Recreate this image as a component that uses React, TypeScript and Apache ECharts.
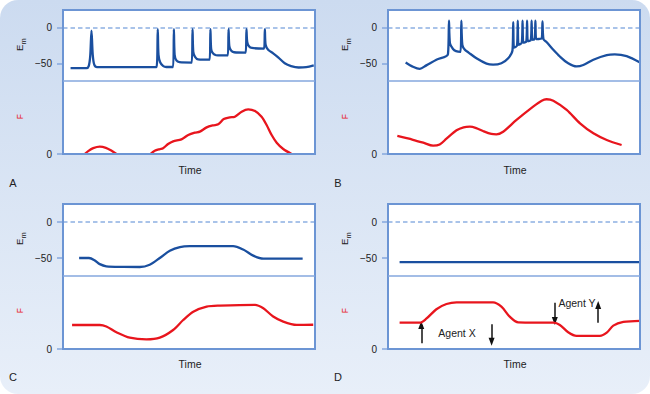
import React, { useEffect, useRef } from 'react';
import * as echarts from 'echarts';

// ---- data ----
const EM_TICKS = [0, -50];
const F_TICKS = [0];
const EM_RANGE = [-75, 25];
const F_RANGE = [0, 100];
const PANEL_LETTERS = ['A', 'B', 'C', 'D'];
const X_NAME = 'Time';
const AGENT_LABELS = ['Agent X', 'Agent Y'];

// Panel A: membrane potential (mV) vs time (0-100)
const aEm = [
  [3, -57], [9.3, -57], [10.2, -54], [10.8, -40], [11.3, -4], [11.8, -38], [12.4, -52], [13.5, -55.5], [20, -55.5], [37.1, -55.5],
  [37.6, -2], [37.9, -38], [38.6, -49], [39.8, -54], [41, -55.3], [43.7, -55.3],
  [44.0, -2], [44.3, -38], [45, -46], [46.2, -48.5], [51.1, -49],
  [51.4, -2], [51.7, -34], [52.4, -41], [53.6, -44.5], [58.2, -45],
  [58.5, -2], [58.8, -30], [59.5, -36], [60.7, -38.5], [65.4, -39],
  [65.7, -2], [66.0, -26], [66.7, -32], [67.9, -34.5], [72.5, -35],
  [72.8, -2], [73.1, -20], [73.8, -26], [75, -28.5], [79.8, -29.5],
  [80.1, -2], [80.4, -24], [81.4, -31], [83.4, -36], [85.5, -42], [88, -50], [90.5, -54], [93.5, -56], [96.5, -55.5], [99.5, -53],
];
const aF = [
  [8.6, 0], [10, 4], [12, 8], [14.6, 10], [17, 8.5], [19, 5], [21.2, 0], [null, null],
  [34.7, 0], [36.4, 4.6], [38.4, 6.8], [39.7, 7.8], [41.7, 13.7], [43.7, 17.4], [47, 20.1], [49.7, 26], [52.3, 29.2],
  [54.3, 30.6], [57, 36.5], [59.6, 39.3], [61.6, 40.6], [63.8, 47.9], [66.2, 50.2], [68.2, 51.1], [70.9, 58],
  [73.5, 61.2], [76.2, 58.9], [78.8, 51.1], [80.8, 39.7], [82.8, 26], [84.8, 15.5], [87.4, 6.8], [90.7, 0],
];

// Panel B
const bEm = [
  [7, -49], [9.9, -55], [12.6, -58], [15.2, -53], [19.2, -45], [23.8, -37],
  [24.2, 10], [24.6, -22], [25.8, -30], [27, -33], [28.8, -34],
  [29.1, 10], [29.5, -24], [30.5, -31], [32, -35], [35.1, -43], [39.1, -50.5], [41.7, -52], [45, -50], [47.7, -43], [49.4, -32],
  [49.7, 8], [50.0, -28], [51.2, -25], [51.5, 10], [51.8, -24], [53.1, -21], [53.4, 10], [53.7, -21], [54.9, -19],
  [55.2, 10], [55.5, -19], [56.7, -17], [57.0, 10], [57.3, -17], [58.2, -16], [58.5, 10], [58.8, -16], [61.0, -15],
  [61.3, 9], [61.7, -16], [62.9, -20], [65.6, -31], [68.2, -40.5], [71.5, -50], [74.8, -54.5], [77.5, -52.5],
  [81.5, -45], [86.8, -38.5], [90, -37.5], [94.7, -40], [100, -49],
];
const bF = [
  [3.7, 24.7], [9.9, 19.5], [14, 15.5], [17.9, 11.4], [20.5, 13], [23.2, 21], [27.2, 32.5], [30, 36.5], [32.5, 37.4],
  [35, 35.5], [37.7, 31.5], [41, 27.5], [43, 26.9], [45.7, 30.5], [51, 46.6], [57.6, 64.8], [61, 73], [62.9, 75],
  [65.6, 73], [70.9, 60.3], [76.2, 42], [81.5, 28.3], [86.8, 19.2], [92.7, 12.3],
];

// Panel C
const cEm = [
  [6.4, -50], [10.3, -50], [12.5, -53], [14.6, -58.5], [17.2, -61.5], [24, -62.3], [30.5, -62.5], [34.4, -59.3],
  [38.4, -50], [42.4, -40], [46.4, -34.8], [50.3, -33.6], [67.5, -33.6], [71.5, -38.3], [75.5, -46.7], [79.5, -50.9], [95.1, -51],
];
const cF = [
  [3.6, 32.9], [14.6, 32.9], [17.2, 30.8], [21.2, 23], [26.5, 15.5], [33.1, 13.2], [38.4, 15.5], [43.7, 26], [47.7, 39.7],
  [51.7, 51], [57, 58], [62.3, 59.4], [76.2, 60.5], [79.5, 55.7], [83.4, 44.5], [87.4, 37.5], [92.7, 33], [99.3, 33.2],
];

// Panel D
const dEm = [[4.6, -55.6], [100, -55.6]];
const dF = [
  [4.6, 36], [12.6, 36], [15.2, 41.5], [19.2, 54.5], [23.2, 61.6], [27.2, 63.9], [41.7, 63.9], [45, 58], [48.3, 44.3],
  [51.7, 36.5], [65.6, 36], [68.2, 33], [71.5, 23], [74.8, 18], [84.1, 18], [86.8, 22.4], [89.4, 32], [93.4, 37], [100, 38.4],
];
// arrows in panel D: [x, fromF, toF]
const dArrows = [[13.2, 7.8, 32.9], [41.1, 33.8, 10], [66.2, 63.5, 38.4], [83.4, 36, 60.3]];

// ---- style / layout ----
const FONT = '"Liberation Sans", Arial, Helvetica, sans-serif';
const BORDER = '#6c95d4';
const DIVIDER = '#84a7de';
const DASH = '#8db0e2';
const BLUE = '#1a4f9f';
const RED = '#e8151d';
const TEXT = '#222';
const W = 252;

const PANELS = [
  { L: 63, T: 10, emH: 71, fH: 73, em: aEm, f: aF },
  { L: 388, T: 10, emH: 71, fH: 73, em: bEm, f: bF },
  { L: 63, T: 204, emH: 72, fH: 73, em: cEm, f: cF },
  { L: 388, T: 204, emH: 72, fH: 73, em: dEm, f: dF },
];

const fmt = (v: number) => (v < 0 ? '\u2212' + Math.abs(v) : String(v));

function buildOption() {
  const grid: any[] = [];
  const xAxis: any[] = [];
  const yAxis: any[] = [];
  const series: any[] = [];
  const graphic: any[] = [];

  graphic.push({
    type: 'rect', z: -20, silent: true,
    shape: { x: 0, y: 0, width: 650, height: 394, r: 18 },
    style: {
      fill: new echarts.graphic.LinearGradient(0, 0, 0, 1, [
        { offset: 0, color: '#ccdbf0' },
        { offset: 1, color: '#e8eff9' },
      ]),
    },
  });

  PANELS.forEach((p, i) => {
    const gi = i * 2;
    grid.push({ left: p.L, top: p.T, width: W, height: p.emH, show: false });
    grid.push({ left: p.L, top: p.T + p.emH, width: W, height: p.fH, show: false });
    xAxis.push({ gridIndex: gi, type: 'value', min: 0, max: 100, show: false });
    xAxis.push({ gridIndex: gi + 1, type: 'value', min: 0, max: 100, show: false });
    const tickStyle = { color: DIVIDER, width: 1.5 };
    const labelStyle = { margin: 11, fontSize: 10, color: TEXT, fontFamily: FONT, formatter: fmt };
    yAxis.push({
      gridIndex: gi, type: 'value', min: EM_RANGE[0], max: EM_RANGE[1],
      axisLine: { show: false }, splitLine: { show: false },
      axisTick: { show: true, length: 6, customValues: EM_TICKS, lineStyle: tickStyle },
      axisLabel: { show: true, customValues: EM_TICKS, ...labelStyle },
    });
    yAxis.push({
      gridIndex: gi + 1, type: 'value', min: F_RANGE[0], max: F_RANGE[1],
      axisLine: { show: false }, splitLine: { show: false },
      axisTick: { show: true, length: 6, customValues: F_TICKS, lineStyle: tickStyle },
      axisLabel: { show: true, customValues: F_TICKS, ...labelStyle },
    });
    series.push({
      type: 'line', xAxisIndex: gi, yAxisIndex: gi, data: p.em, showSymbol: false, symbol: 'none',
      smooth: 0.3, silent: true, lineStyle: { color: BLUE, width: 2.3 }, z: 5,
      markLine: {
        silent: true, symbol: 'none', label: { show: false },
        lineStyle: { color: DASH, type: [4.5, 3], width: 1.5 },
        data: [{ yAxis: 0 }],
      },
    });
    const fSeries: any = {
      type: 'line', xAxisIndex: gi + 1, yAxisIndex: gi + 1, data: p.f, showSymbol: false, symbol: 'none',
      smooth: 0.3, silent: true, connectNulls: false, lineStyle: { color: RED, width: 2.3 }, z: 5,
    };
    if (i === 3) {
      fSeries.markLine = {
        silent: true, symbol: ['none', 'triangle'], symbolSize: [6, 8], label: { show: false },
        lineStyle: { color: '#111', type: 'solid', width: 1.5 },
        data: dArrows.map(([x, y0, y1]) => [{ coord: [x, y0] }, { coord: [x, y1] }]),
      };
    }
    series.push(fSeries);

    // panel frame
    graphic.push({
      type: 'rect', z: -10, silent: true,
      shape: { x: p.L, y: p.T, width: W, height: p.emH + p.fH },
      style: { fill: '#ffffff' },
    });
    graphic.push({
      type: 'rect', z: 50, silent: true,
      shape: { x: p.L, y: p.T, width: W, height: p.emH + p.fH },
      style: { fill: 'none', stroke: BORDER, lineWidth: 2 },
    });
    graphic.push({
      type: 'line', z: 50, silent: true,
      shape: { x1: p.L, y1: p.T + p.emH, x2: p.L + W, y2: p.T + p.emH },
      style: { stroke: DIVIDER, lineWidth: 1.5 },
    });
    // Em label (E with subscript m), rotated
    graphic.push({
      type: 'group', x: p.L - 42, y: p.T + 34, rotation: Math.PI / 2, z: 50,
      children: [
        { type: 'text', x: -3.8, y: -1.8, z: 50, style: { text: 'E', fontSize: 9.5, fontFamily: FONT, fill: TEXT, align: 'center', verticalAlign: 'middle' } },
        { type: 'text', x: 2.6, y: 2.6, z: 50, style: { text: 'm', fontSize: 7.5, fontFamily: FONT, fill: TEXT, align: 'center', verticalAlign: 'middle' } },
      ],
    });
    graphic.push({
      type: 'text', x: p.L - 43.5, y: p.T + 106.7, rotation: Math.PI / 2, z: 50,
      style: { text: 'F', fontSize: 8.5, fontFamily: FONT, fill: RED, align: 'center', verticalAlign: 'middle' },
    });
    graphic.push({
      type: 'text', x: p.L + 127, y: p.T + 159.5, z: 50,
      style: { text: X_NAME, fontSize: 10.5, fontFamily: FONT, fill: TEXT, align: 'center', verticalAlign: 'middle' },
    });
    graphic.push({
      type: 'text', x: p.L - 50, y: p.T + 173, z: 50,
      style: { text: PANEL_LETTERS[i], fontSize: 11, fontFamily: FONT, fill: TEXT, align: 'center', verticalAlign: 'middle' },
    });
    if (i === 3) {
      graphic.push({
        type: 'text', x: p.L + 69, y: p.T + 129, z: 50,
        style: { text: AGENT_LABELS[0], fontSize: 10.5, fontFamily: FONT, fill: TEXT, align: 'center', verticalAlign: 'middle' },
      });
      graphic.push({
        type: 'text', x: p.L + 189, y: p.T + 99, z: 50,
        style: { text: AGENT_LABELS[1], fontSize: 10.5, fontFamily: FONT, fill: TEXT, align: 'center', verticalAlign: 'middle' },
      });
    }
  });

  return { animation: false, grid, xAxis, yAxis, series, graphic };
}

export default function App() {
  const ref = useRef<HTMLDivElement>(null);
  useEffect(() => {
    if (!ref.current) return;
    const chart = echarts.init(ref.current, undefined, { renderer: 'svg' });
    chart.setOption(buildOption() as any);
    return () => chart.dispose();
  }, []);
  return (
    <div
      ref={ref}
      style={{ position: 'fixed', left: 0, top: 0, width: 650, height: 394, background: '#fff' }}
    />
  );
}
